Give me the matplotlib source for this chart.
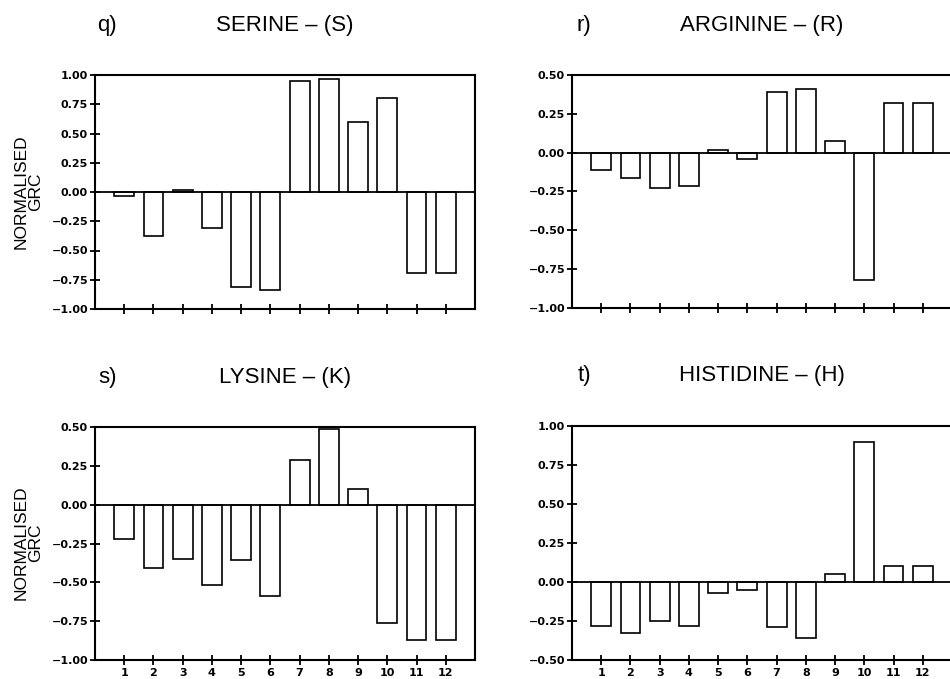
import matplotlib
matplotlib.use("Agg")
import matplotlib.pyplot as plt
import numpy as np

positions = list(range(1, 13))
tick_labels = [str(p) for p in positions]

serine = [-0.03, -0.38, 0.02, -0.31, -0.81, -0.84, 0.95, 0.97, 0.60, 0.80, -0.69, -0.69]
arginine = [-0.11, -0.16, -0.225, -0.215, 0.02, -0.04, 0.39, 0.41, 0.075, -0.82, 0.32, 0.32]
lysine = [-0.22, -0.405, -0.35, -0.515, -0.355, -0.59, 0.29, 0.49, 0.10, -0.765, -0.87, -0.87]
histidine = [-0.28, -0.325, -0.25, -0.28, -0.07, -0.05, -0.29, -0.36, 0.05, 0.90, 0.10, 0.10]

panel_letters = ["q)", "r)", "s)", "t)"]
panel_titles = ["SERINE \u2013 (S)", "ARGININE \u2013 (R)", "LYSINE \u2013 (K)", "HISTIDINE \u2013 (H)"]
panel_data = [serine, arginine, lysine, histidine]
panel_ylims = [(-1.0, 1.0), (-1.0, 0.5), (-1.0, 0.5), (-0.5, 1.0)]
ylabel_text = "NORMALISED\nGRC"

W, H = 950, 679
fig = plt.figure(figsize=(9.5, 6.79), dpi=100)

# axes rectangles in pixels: (left, top, right, bottom)
rects = [(95, 75, 475, 309), (572, 75, 952, 308),
         (95, 427, 475, 660), (572, 426, 952, 660)]

tick_font = dict(family="DejaVu Sans", weight="bold", size=8)

for i, (rect, data, ylim) in enumerate(zip(rects, panel_data, panel_ylims)):
    l, t, r, b = rect
    ax = fig.add_axes([l / W, 1 - b / H, (r - l) / W, (b - t) / H])
    ax.bar(positions, data, width=0.68, color="white", edgecolor="black",
           linewidth=1.2, zorder=2)
    ax.axhline(0, color="black", linewidth=1.3, zorder=3)
    ax.set_xlim(0, 13)
    ax.set_ylim(*ylim)
    yt = np.arange(ylim[0], ylim[1] + 0.001, 0.25)
    ax.set_yticks(yt)
    ax.set_yticklabels([f"{v:.2f}".replace("-", "\u2212") for v in yt], fontdict=tick_font)
    ax.set_xticks(positions)
    if i >= 2:
        ax.set_xticklabels(tick_labels, fontdict=tick_font)
    else:
        ax.set_xticklabels([])
    ax.tick_params(axis="both", direction="inout", length=7, width=1.3, pad=1.5)
    ax.tick_params(axis="x", pad=2.5)
    for s in ax.spines.values():
        s.set_linewidth(1.5)
    # titles
    h = b - t
    ax.text(0.032, 1 + 50 / h, panel_letters[i], transform=ax.transAxes,
            ha="center", va="center", fontsize=16, family="Liberation Sans")
    ax.text(0.5, 1 + 50 / h, panel_titles[i], transform=ax.transAxes,
            ha="center", va="center", fontsize=16, family="Liberation Sans")

# y labels on left panels
fig.text(28 / W, 1 - 192 / H, ylabel_text, rotation=90, ha="center", va="center",
         fontsize=12.5, family="Liberation Sans", linespacing=0.95)
fig.text(28 / W, 1 - 543 / H, ylabel_text, rotation=90, ha="center", va="center",
         fontsize=12.5, family="Liberation Sans", linespacing=0.95)

fig.savefig("out.png", dpi=100, facecolor="white")
